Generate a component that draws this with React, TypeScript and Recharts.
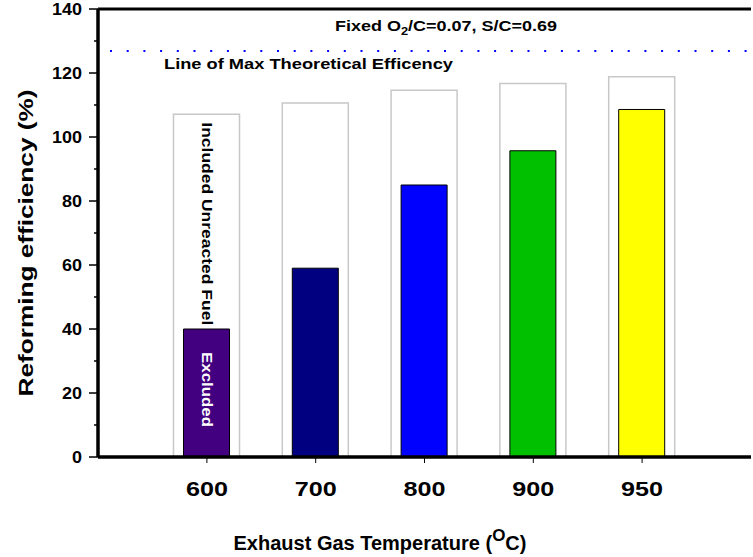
import React from 'react';
import { BarChart, Bar, XAxis, YAxis, Cell, ReferenceLine } from 'recharts';

const temps = ['600', '700', '800', '900', '950'];
const excludedEff = [40.0, 59.0, 85.0, 95.7, 108.6];
const includedEff = [107.1, 110.6, 114.6, 116.7, 118.8];
const barColors = ['#420080', '#000080', '#0000FF', '#00C000', '#FFFF00'];
const yTicks = [0, 10, 20, 30, 40, 50, 60, 70, 80, 90, 100, 110, 120, 130, 140];
const maxTheoretical = 126.9;

const data = temps.map((t, i) => ({
  temp: t,
  excluded: excludedEff[i],
  included: includedEff[i],
}));

const FONT = '"Liberation Sans", Arial, Helvetica, sans-serif';

const YTick = ({ x, y, payload }: any) => {
  const major = payload.value % 20 === 0;
  const label = String(payload.value);
  return (
    <g>
      <line x1={x - (major ? 9 : 4)} x2={x} y1={y} y2={y} stroke="#000" strokeWidth={1.5} />
      {major && (
        <text
          x={x - 16}
          y={y}
          dy="0.36em"
          textAnchor="end"
          fontFamily={FONT}
          fontWeight={700}
          fontSize={16}
          textLength={label.length * 10}
          lengthAdjust="spacingAndGlyphs"
          fill="#000"
        >
          {label}
        </text>
      )}
    </g>
  );
};

const XTick = ({ x, y, payload }: any) => (
  <text
    x={x}
    y={y + 31}
    textAnchor="middle"
    fontFamily={FONT}
    fontWeight={700}
    fontSize={20}
    textLength={42}
    lengthAdjust="spacingAndGlyphs"
    fill="#000"
  >
    {payload.value}
  </text>
);

// vertical note inside the first background bar
const includedNote = (props: any) => {
  const { x, y, width, index } = props;
  if (index !== 0) return null;
  const cx = x + width / 2 - 5;
  const cy = y + 8;
  return (
    <text
      x={cx}
      y={cy}
      transform={`rotate(90 ${cx} ${cy})`}
      fontFamily={FONT}
      fontWeight={700}
      fontSize={15}
      textLength={203}
      lengthAdjust="spacingAndGlyphs"
      fill="#000"
    >
      Included Unreacted Fuel
    </text>
  );
};

const excludedNote = (props: any) => {
  const { x, y, width, index } = props;
  if (index !== 0) return null;
  const cx = x + width / 2 - 5;
  const cy = y + 23;
  return (
    <text
      x={cx}
      y={cy}
      transform={`rotate(90 ${cx} ${cy})`}
      fontFamily={FONT}
      fontWeight={700}
      fontSize={15}
      textLength={75}
      lengthAdjust="spacingAndGlyphs"
      fill="#fff"
    >
      Excluded
    </text>
  );
};

export default function App() {
  return (
    <div style={{ position: 'absolute', left: 0, top: 0, background: '#fff' }}>
      <BarChart
        width={753}
        height={557}
        data={data}
        margin={{ top: 9, right: 2, left: 0, bottom: 0 }}
      >
        <XAxis
          xAxisId="back"
          dataKey="temp"
          hide
          height={0}
          padding={{ left: 54.5, right: 54.5 }}
        />
        <XAxis
          xAxisId="main"
          dataKey="temp"
          height={100}
          padding={{ left: 54.5, right: 54.5 }}
          axisLine={{ stroke: '#000', strokeWidth: 3.5 }}
          tickLine={{ stroke: '#000', strokeWidth: 1 }}
          tickSize={6}
          tick={<XTick />}
        />
        <YAxis
          yAxisId="l"
          type="number"
          domain={[0, 140]}
          ticks={yTicks}
          interval={0}
          width={98}
          tickSize={0}
          tickMargin={0}
          tickLine={false}
          axisLine={{ stroke: '#000', strokeWidth: 3.5 }}
          tick={<YTick />}
        />
        <YAxis
          yAxisId="r"
          orientation="right"
          domain={[0, 140]}
          width={0}
          tick={false}
          tickLine={false}
          axisLine={{ stroke: '#000', strokeWidth: 3.5 }}
        />
        <ReferenceLine
          yAxisId="l"
          xAxisId="main"
          y={140}
          stroke="#000"
          strokeWidth={3}
          label={{
            content: ({ viewBox }: any) => (
              <text
                x={viewBox.x + 237}
                y={viewBox.y + 22}
                fontFamily={FONT}
                fontWeight={700}
                fontSize={14}
                textLength={222}
                lengthAdjust="spacingAndGlyphs"
                fill="#000"
              >
                Fixed O<tspan fontSize={10} dy={4}>2</tspan>
                <tspan dy={-4}>/C=0.07, S/C=0.69</tspan>
              </text>
            ),
          }}
        />
        <ReferenceLine
          yAxisId="l"
          xAxisId="main"
          y={maxTheoretical}
          stroke="#0000FF"
          strokeWidth={2}
          strokeDasharray="2 14.7"
          strokeDashoffset={-12}
          label={{
            content: ({ viewBox }: any) => (
              <text
                x={viewBox.x + 66}
                y={viewBox.y + 18}
                fontFamily={FONT}
                fontWeight={700}
                fontSize={15}
                textLength={289}
                lengthAdjust="spacingAndGlyphs"
                fill="#000"
              >
                Line of Max Theoretical Efficency
              </text>
            ),
          }}
        />
        <Bar
          xAxisId="back"
          yAxisId="l"
          dataKey="included"
          barSize={66}
          fill="#fff"
          stroke="#C8C8C8"
          strokeWidth={1.5}
          isAnimationActive={false}
          label={includedNote}
        />
        <Bar
          xAxisId="main"
          yAxisId="l"
          dataKey="excluded"
          barSize={46}
          stroke="#000"
          strokeWidth={1}
          isAnimationActive={false}
          label={excludedNote}
        >
          {data.map((_, i) => (
            <Cell key={i} fill={barColors[i]} />
          ))}
        </Bar>
        <text
          x={380}
          y={550}
          textAnchor="middle"
          fontFamily={FONT}
          fontWeight={700}
          fontSize={20}
          fill="#000"
        >
          Exhaust Gas Temperature (<tspan fontSize={17} dy={-9}>O</tspan>
          <tspan dy={9}>C)</tspan>
        </text>
        <text
          x={25}
          y={243}
          transform="rotate(-90 25 243)"
          textAnchor="middle"
          dominantBaseline="central"
          fontFamily={FONT}
          fontWeight={700}
          fontSize={21}
          textLength={307}
          lengthAdjust="spacingAndGlyphs"
          fill="#000"
        >
          Reforming efficiency (%)
        </text>
      </BarChart>
    </div>
  );
}
